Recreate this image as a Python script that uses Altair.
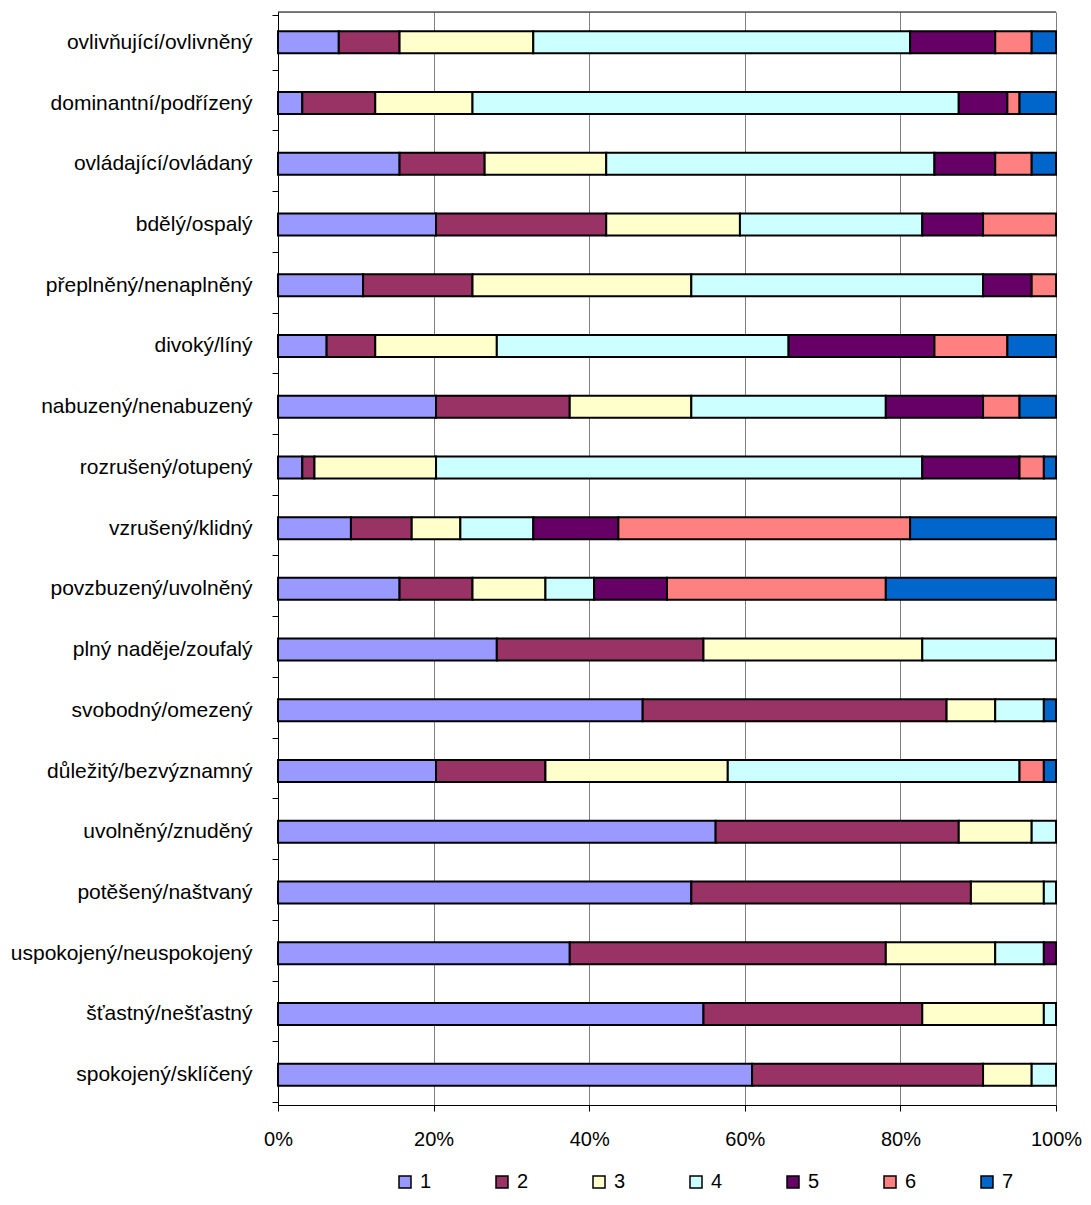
import altair as alt
import pandas as pd

categories = [
    "ovlivňující/ovlivněný", "dominantní/podřízený", "ovládající/ovládaný",
    "bdělý/ospalý", "přeplněný/nenaplněný", "divoký/líný",
    "nabuzený/nenabuzený", "rozrušený/otupený", "vzrušený/klidný",
    "povzbuzený/uvolněný", "plný naděje/zoufalý", "svobodný/omezený",
    "důležitý/bezvýznamný", "uvolněný/znuděný", "potěšený/naštvaný",
    "uspokojený/neuspokojený", "šťastný/nešťastný", "spokojený/sklíčený",
]
series_names = ["1", "2", "3", "4", "5", "6", "7"]
s1 = [5, 2, 10, 13, 7, 4, 13, 2, 6, 10, 18, 30, 13, 36, 34, 24, 35, 39]
s2 = [5, 6, 7, 14, 9, 4, 11, 1, 5, 6, 17, 25, 9, 20, 23, 26, 18, 19]
s3 = [11, 8, 10, 11, 18, 10, 10, 10, 4, 6, 18, 4, 15, 6, 6, 9, 10, 4]
s4 = [31, 40, 27, 15, 24, 24, 16, 40, 6, 4, 11, 4, 24, 2, 1, 4, 1, 2]
s5 = [7, 4, 5, 5, 4, 12, 8, 8, 7, 6, 0, 0, 0, 0, 0, 1, 0, 0]
s6 = [3, 1, 3, 6, 2, 6, 3, 2, 24, 18, 0, 0, 2, 0, 0, 0, 0, 0]
s7 = [2, 3, 2, 0, 0, 4, 3, 1, 12, 14, 0, 1, 1, 0, 0, 0, 0, 0]
colors = ["#9999FF", "#993366", "#FFFFCC", "#CCFFFF", "#660066", "#FF8080", "#0066CC"]
x_ticks = [0, 0.2, 0.4, 0.6, 0.8, 1.0]

all_series = [s1, s2, s3, s4, s5, s6, s7]
rows = []
for si, (name, vals) in enumerate(zip(series_names, all_series)):
    for cat, v in zip(categories, vals):
        if v > 0:
            rows.append({"cat": cat, "series": name, "idx": si, "value": v})
df = pd.DataFrame(rows)

W, H = 778, 1093
FONT = "Liberation Sans"

bars = alt.Chart(df).mark_bar(stroke="black", strokeWidth=2, size=22).encode(
    y=alt.Y("cat:N", sort=categories, title=None,
            axis=alt.Axis(labelFontSize=21, labelFont=FONT, labelColor="black",
                          tickBand="extent", tickSize=6, tickColor="black",
                          domainColor="black", labelPadding=20, labelLimit=400,
                          grid=False)),
    x=alt.X("value:Q", stack="normalize", scale=alt.Scale(domain=[0, 1]), title=None,
            axis=alt.Axis(format="%", values=x_ticks, grid=True, gridColor="#808080",
                          gridWidth=1, tickSize=6, tickColor="black", domainColor="black",
                          labelFontSize=20, labelFont=FONT, labelColor="black",
                          labelPadding=18, labelFlush=False)),
    color=alt.Color("series:N", scale=alt.Scale(domain=series_names, range=colors),
                    legend=alt.Legend(title=None, orient="none", direction="horizontal",
                                      legendX=117, legendY=1160, symbolType="square",
                                      symbolSize=144, symbolStrokeColor="black",
                                      symbolStrokeWidth=1.5, symbolOpacity=1,
                                      labelFontSize=20, labelFont=FONT, labelColor="black",
                                      labelOffset=5, columnPadding=60, padding=0)),
    order=alt.Order("idx:Q"),
)

top_line = alt.Chart(pd.DataFrame({"a": [0]})).mark_rule(color="black", strokeWidth=1).encode(
    x=alt.value(0), x2=alt.value(W), y=alt.value(0)
)

chart = alt.layer(bars, top_line).properties(
    width=W, height=H,
    autosize=alt.AutoSizeParams(type="none"),
    padding={"left": 270, "top": 4, "right": 26, "bottom": 90},
).configure_view(stroke=None).configure(background="white")

chart.save("out.html", embed_options={"renderer": "svg", "actions": False})
